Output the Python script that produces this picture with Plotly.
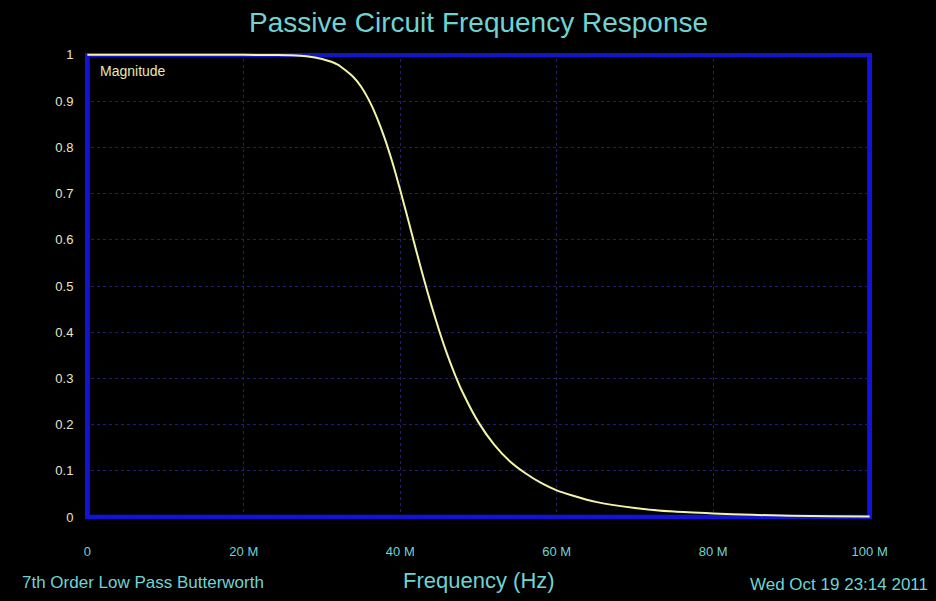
import plotly.graph_objects as go

# Frequency (MHz) and magnitude
freq_mhz = [0, 5, 10, 15, 20, 24, 26, 28, 30, 32, 34, 35, 36, 37, 38, 39, 40, 41, 42, 43,
            44, 45, 46, 47, 48, 50, 52, 54, 56, 58, 60, 62, 65, 70, 75, 80, 85, 90, 95, 100]
magnitude = [1.0, 1.0, 1.0, 1.0, 1.0, 0.9995, 0.999, 0.997, 0.991, 0.979, 0.952, 0.931, 0.902,
             0.865, 0.820, 0.767, 0.707, 0.644, 0.579, 0.516, 0.457, 0.402, 0.352, 0.308, 0.269,
             0.205, 0.157, 0.121, 0.095, 0.074, 0.058, 0.047, 0.033, 0.020, 0.012, 0.008,
             0.005, 0.003, 0.002, 0.0016]

x_tick_vals = [0, 20, 40, 60, 80, 100]
x_tick_text = ["0", "20 M", "40 M", "60 M", "80 M", "100 M"]
y_tick_vals = [0, 0.1, 0.2, 0.3, 0.4, 0.5, 0.6, 0.7, 0.8, 0.9, 1]
y_tick_text = ["0", "0.1", "0.2", "0.3", "0.4", "0.5", "0.6", "0.7", "0.8", "0.9", "1"]

title_text = "Passive Circuit Frequency Response"
x_title = "Frequency (Hz)"
footer_left = "7th Order Low Pass Butterworth"
footer_right = "Wed Oct 19 23:14 2011"
series_label = "Magnitude"

CYAN = "#6fd3d3"
BLUE = "#1212d8"
GRID = "#1e1e78"
FONT = "Liberation Sans, Arial, sans-serif"

fig = go.Figure()
fig.add_trace(go.Scatter(x=freq_mhz, y=magnitude, mode="lines",
                         line=dict(color="#f4f4a8", width=2, shape="spline", smoothing=0.6),
                         hoverinfo="skip", showlegend=False))

fig.add_shape(type="rect", xref="x", yref="y", x0=0, x1=100, y0=0, y1=1,
              line=dict(color=BLUE, width=5), layer="below")

fig.update_layout(
    width=936, height=601,
    paper_bgcolor="black", plot_bgcolor="black",
    margin=dict(l=85, r=64, t=53, b=82),
    showlegend=False,
    font=dict(family=FONT),
    title=dict(text=title_text, x=0.5, xref="paper", xanchor="center",
               y=1 - 22 / 601, yanchor="middle",
               font=dict(size=28, color=CYAN, family=FONT)),
    xaxis=dict(range=[-0.3, 100.3], tickvals=x_tick_vals, ticktext=x_tick_text,
               showgrid=True, gridcolor=GRID, gridwidth=1, griddash="dot",
               zeroline=False, showline=False,
               ticks="outside", ticklen=20, tickcolor="black",
               tickfont=dict(size=13, color=CYAN, family=FONT), fixedrange=True),
    yaxis=dict(range=[-0.004, 1.004], tickvals=y_tick_vals, ticktext=y_tick_text,
               showgrid=True, gridcolor=GRID, gridwidth=1, griddash="dot",
               zeroline=False, showline=False,
               ticks="outside", ticklen=8, tickcolor="black",
               tickfont=dict(size=13, color="#e6e6c4", family=FONT), fixedrange=True),
    annotations=[
        dict(text=series_label, xref="paper", yref="paper", x=(98 - 85) / 787,
             y=(519 - 71) / 466, xanchor="left", yanchor="middle", showarrow=False,
             font=dict(size=14, color="#e8e8b0", family=FONT)),
        dict(text=x_title, xref="paper", yref="paper", x=0.5, y=(519 - 580) / 466,
             xanchor="center", yanchor="middle", showarrow=False,
             font=dict(size=22, color=CYAN, family=FONT)),
        dict(text=footer_left, xref="paper", yref="paper", x=(20 - 85) / 787,
             y=(519 - 582) / 466, xanchor="left", yanchor="middle", showarrow=False,
             font=dict(size=17, color=CYAN, family=FONT)),
        dict(text=footer_right, xref="paper", yref="paper", x=(930 - 85) / 787,
             y=(519 - 584) / 466, xanchor="right", yanchor="middle", showarrow=False,
             font=dict(size=17, color=CYAN, family=FONT)),
    ],
)

fig.write_html(
    "out.html",
    config={"displayModeBar": False},
    post_script="document.body.style.margin='0';document.body.style.background='black';"
                "document.body.style.overflow='hidden';",
)
